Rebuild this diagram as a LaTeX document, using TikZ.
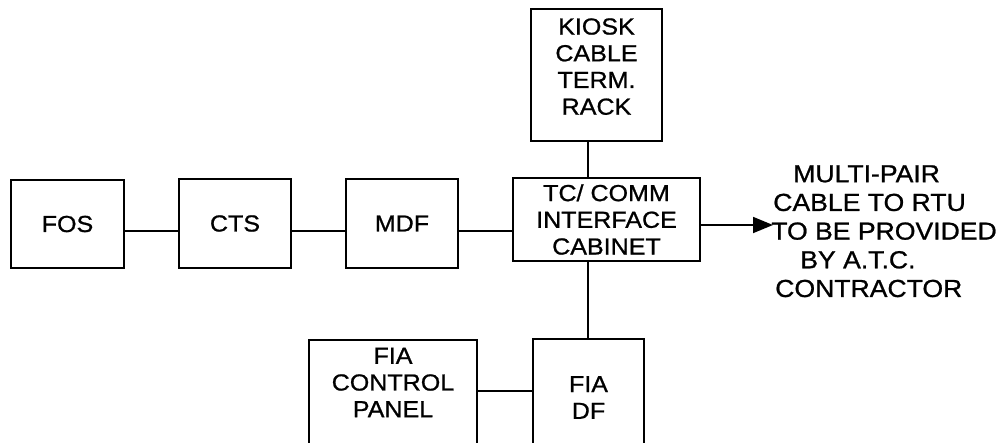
\documentclass[tikz,border=0pt]{standalone}
\usepackage{fontspec}
\setmainfont{Liberation Sans}[FakeStretch=1.08,FakeBold=0.9]
\usetikzlibrary{arrows.meta}
\begin{document}
\begin{tikzpicture}[x=0.025cm,y=-0.025cm,
  box/.style={draw,line width=1.5pt,inner sep=0pt,align=center,
    font=\fontsize{16.5}{19}\selectfont},
  wire/.style={line width=1.3pt}]
\useasboundingbox (0,0) rectangle (1000,442);
\clip (0,0) rectangle (1000,442);
\fill[white] (0,0) rectangle (1000,442);
% boxes
\node[box,minimum width=2.825cm,minimum height=2.2cm] (fos) at (67.5,224) {FOS};
\node[box,minimum width=2.8cm,minimum height=2.225cm] (cts) at (235,223.5) {CTS};
\node[box,minimum width=2.8cm,minimum height=2.225cm] (mdf) at (402,223.5) {MDF};
\node[box,minimum width=4.675cm,minimum height=2.075cm] (tc) at (606.5,219.5) {TC/ COMM\\INTERFACE\\CABINET};
\node[box,minimum width=3.275cm,minimum height=3.3cm] (kiosk) at (596.5,75) {KIOSK\\CABLE\\TERM.\\RACK\rule[-0.425cm]{0pt}{0pt}};
\node[box,minimum width=4.2cm,minimum height=3.0cm] (fcp) at (393,400) {FIA\\CONTROL\\PANEL\rule[-0.875cm]{0pt}{0pt}};
\node[box,minimum width=2.775cm,minimum height=3.025cm] (df) at (588.5,399.5) {FIA\\DF\rule[-0.1cm]{0pt}{0pt}};
% note
\node[anchor=north west,inner sep=0pt,align=left,font=\fontsize{17.5}{20.4}\selectfont] (note) at (771,165)
  {\hspace*{0.55cm}MULTI-PAIR\\\hspace*{0.05cm}CABLE TO RTU\\TO BE PROVIDED\\\hspace*{0.725cm}BY A.T.C.\\\hspace*{0.1cm}CONTRACTOR};
% helper coordinates
\coordinate (row) at (0,231);
\coordinate (vx) at (588,0);
\coordinate (fy) at (0,391);
\coordinate (tip) at (773,225);
% connectors
\draw[wire] (fos.east |- row) -- (cts.west |- row);
\draw[wire] (cts.east |- row) -- (mdf.west |- row);
\draw[wire] (mdf.east |- row) -- (tc.west |- row);
\draw[wire] (kiosk.south -| vx) -- (tc.north -| vx);
\draw[wire] (tc.south -| vx) -- (df.north -| vx);
\draw[wire] (fcp.east |- fy) -- (df.west |- fy);
\draw[wire,-{Triangle[length=0.5cm,width=0.4cm]}] (tc.east |- tip) -- (tip);
\end{tikzpicture}
\end{document}
